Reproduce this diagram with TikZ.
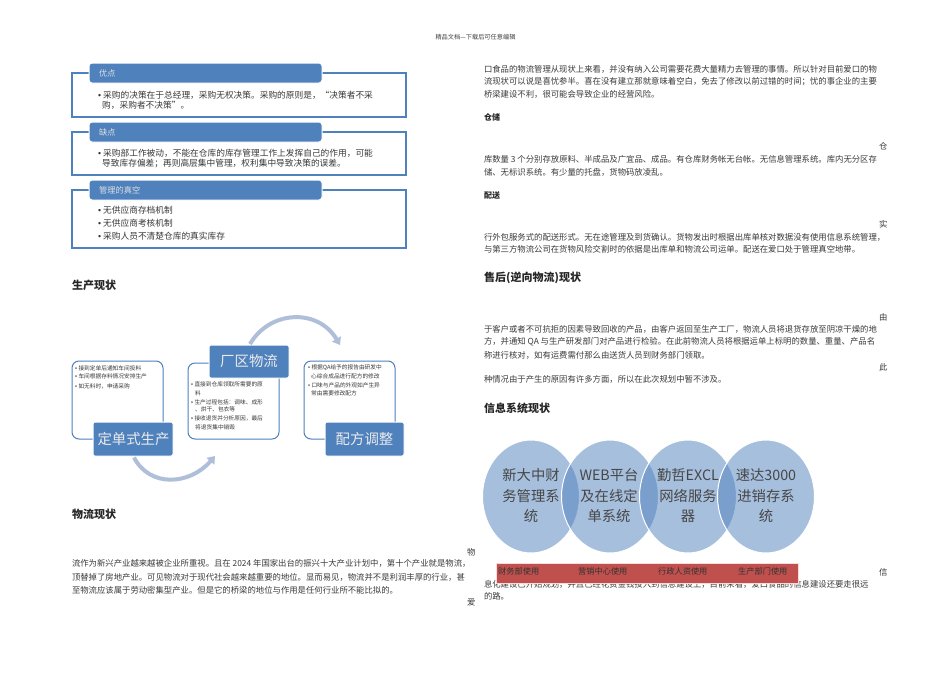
\documentclass[tikz,border=0pt]{standalone}
\usepackage{fontspec}
\setmainfont{Noto Sans CJK SC}
\newfontfamily\bulletfont{Liberation Sans}
\usetikzlibrary{arrows.meta,positioning,shapes.geometric}
\definecolor{bluemain}{HTML}{4F81BD}
\definecolor{arcblue}{HTML}{AFBFD9}
\definecolor{bodyink}{HTML}{3A3A3A}
\definecolor{redbar}{HTML}{C0504D}
\tikzset{
  txt/.style={anchor=west,inner sep=0pt,outer sep=0pt,text=bodyink,font=\fontsize{8.36}{10}\selectfont},
  headline/.style={anchor=west,inner sep=0pt,text=black!85,font=\fontsize{11}{13}\selectfont\bfseries},
  subhead/.style={anchor=west,inner sep=0pt,text=black!85,font=\fontsize{8}{10}\selectfont\bfseries},
  listbox/.style={draw=bluemain,line width=1.1pt,fill=white},
  titlebar/.style={draw=white,line width=1pt,fill=bluemain,rounded corners=3pt},
  titletxt/.style={anchor=west,inner sep=0pt,text=white!88!black,font=\fontsize{8.2}{10}\selectfont},
  listtxt/.style={anchor=west,inner sep=0pt,text=black!78,font=\fontsize{8.7}{10}\selectfont},
  cardbox/.style={draw=bluemain,line width=1pt,fill=white,rounded corners=7pt},
  cardtitle/.style={draw=white,line width=1pt,fill=bluemain,rounded corners=2pt},
  cardhead/.style={inner sep=0pt,text=white!92!black,font=\fontsize{14.4}{16}\selectfont},
  cardtxt/.style={anchor=west,inner sep=0pt,text=black!78,font=\fontsize{5.7}{7}\selectfont},
  bigarc/.style={draw=arcblue,line width=4pt,-{Triangle[length=7pt,width=10pt]}},
  lens/.style={ellipse,draw=white,line width=1pt,fill=bluemain,fill opacity=0.5,text opacity=1,minimum width=97pt,minimum height=113pt,inner sep=0pt},
  lenstxt/.style={inner sep=0pt,text=black!72,font=\fontsize{14.3}{20.5}\selectfont,align=center},
  barlabel/.style={anchor=west,inner sep=0pt,text=black!80,font=\fontsize{8.2}{10}\selectfont},
}
\newcommand\tl[4]{\node[txt] (#1) at (#2,#3) {#4};}
\newcommand\blt{\makebox[0.58em][l]{\bulletfont •}}
\begin{document}
\begin{tikzpicture}[x=1pt,y=-1pt]
\useasboundingbox (0,0) rectangle (950,672);
\fill[white] (0,0) rectangle (950,672);
\node[inner sep=0pt,text=black!75,font=\fontsize{6.2}{7}\selectfont] (hdr) at (475.5,37) {精品文档---下载后可任意编辑};

% ---- top-left list
\draw[listbox] (72,73) rectangle (406,117);
\draw[listbox] (72,132) rectangle (406,175);
\draw[listbox] (72,190) rectangle (406,248);
\draw[titlebar] (89,63) rectangle (322,83);
\draw[titlebar] (89,122) rectangle (322,142);
\draw[titlebar] (89,180) rectangle (322,200);
\node[titletxt] (ta) at (99,73) {优点};
\node[titletxt] (tb) at (99,132) {缺点};
\node[titletxt] (tc) at (99,190) {管理的真空};
\node[listtxt] (la1) at (98,95) {\blt 采购的决策在于总经理，采购无权决策。采购的原则是，“决策者不采};
\node[listtxt] (la2) at (102,105.5) {购，采购者不决策”。};
\node[listtxt] (lb1) at (98,153) {\blt 采购部工作被动，不能在仓库的库存管理工作上发挥自己的作用，可能};
\node[listtxt] (lb2) at (102,163.5) {导致库存偏差；再则高层集中管理，权利集中导致决策的误差。};
\node[listtxt] (lc1) at (98,210) {\blt 无供应商存档机制};
\node[listtxt] (lc2) at (98,223) {\blt 无供应商考核机制};
\node[listtxt] (lc3) at (98,236) {\blt 采购人员不清楚仓库的真实库存};

\node[headline] (h1) at (72,285) {生产现状};

% ---- cycle
\draw[cardbox] (72,361) rectangle (163,439);
\draw[cardbox] (188,363) rectangle (279,439);
\draw[cardbox] (304,361) rectangle (395,439);
\draw[cardtitle] (93,422) rectangle (173,456);
\draw[cardtitle] (209,345) rectangle (289,378);
\draw[cardtitle] (325,422) rectangle (404,456);
\node[cardhead] (ca) at (133.5,439) {定单式生产};
\node[cardhead] (cb) at (249,361.5) {厂区物流};
\node[cardhead] (cc) at (364.5,439) {配方调整};
\coordinate (arcAs) at (134,457.5);
\coordinate (arcAe) at (215,456);
\coordinate (arcBs) at (250,344);
\coordinate (arcBe) at (340,345);
\draw[bigarc] (arcAs) .. controls (150,488) and (190,485) .. (arcAe);
\draw[bigarc] (arcBs) .. controls (270,310) and (318,308) .. (arcBe);

\node[cardtxt] (a1) at (75,368) {\blt 接到定单后通知车间投料};
\node[cardtxt] (a2) at (75,376.5) {\blt 车间根据存料情况安排生产};
\node[cardtxt] (a3) at (75,386) {\blt 如无料时，申请采购};
\node[cardtxt] (b1) at (191,384) {\blt 直接到仓库领取所需要的原};
\node[cardtxt] (b2) at (195,393) {料};
\node[cardtxt] (b3) at (191,402) {\blt 生产过程包括：调味、成形};
\node[cardtxt] (b4) at (195,409.5) {、烘干、包衣等};
\node[cardtxt] (b5) at (191,418) {\blt 接收退货并分析原因，最后};
\node[cardtxt] (b6) at (195,427) {将退货集中销毁};
\node[cardtxt] (c1) at (308,368) {\blt 根据QA给予的报告由研发中};
\node[cardtxt] (c2) at (311,376) {心综合成品进行配方的修改};
\node[cardtxt] (c3) at (308,385) {\blt 口味与产品的外观如产生异};
\node[cardtxt] (c4) at (311,393) {常由需要修改配方};

\node[headline] (h2) at (72,514) {物流现状};
\node[txt] (p0) at (467,552) {物};
\tl{p1}{72}{563.5}{流作为新兴产业越来越被企业所重视。且在 2024 年国家出台的振兴十大产业计划中，第十个产业就是物流，}
\tl{p2}{72}{577}{顶替掉了房地产业。可见物流对于现代社会越来越重要的地位。显而易见，物流并不是利润丰厚的行业，甚}
\tl{p3}{72}{590}{至物流应该属于劳动密集型产业。但是它的桥梁的地位与作用是任何行业所不能比拟的。}
\node[txt] (p4) at (467,602.5) {爱};

% ---- right column
\tl{r1}{484}{69}{口食品的物流管理从现状上来看，并没有纳入公司需要花费大量精力去管理的事情。所以针对目前爱口的物}
\tl{r2}{484}{82}{流现状可以说是喜忧参半。喜在没有建立那就意味着空白，免去了修改以前过错的时间；忧的事企业的主要}
\tl{r3}{484}{94}{桥梁建设不利，很可能会导致企业的经营风险。}
\node[subhead] (s1) at (484,117) {仓储};
\tl{r4}{879}{146}{仓}
\tl{r5}{484}{159}{库数量 3 个分别存放原料、半成品及广宜品、成品。有仓库财务帐无台帐。无信息管理系统。库内无分区存}
\tl{r6}{484}{172}{储、无标识系统。有少量的托盘，货物码放凌乱。}
\node[subhead] (s2) at (484,195) {配送};
\tl{r7}{879}{224}{实}
\tl{r8}{484}{237}{行外包服务式的配送形式。无在途管理及到货确认。货物发出时根据出库单核对数据没有使用信息系统管理，}
\tl{r9}{484}{249}{与第三方物流公司在货物风险交割时的依据是出库单和物流公司运单。配送在爱口处于管理真空地带。}
\node[headline] (h3) at (484,278) {售后(逆向物流)现状};
\tl{r10}{879}{317}{由}
\tl{r11}{484}{329}{于客户或者不可抗拒的因素导致回收的产品，由客户返回至生产工厂，物流人员将退货存放至阴凉干燥的地}
\tl{r12}{484}{342}{方，并通知 QA 与生产研发部门对产品进行检验。在此前物流人员将根据运单上标明的数量、重量、产品名}
\tl{r13}{484}{355}{称进行核对，如有运费需付那么由送货人员到财务部门领取。}
\tl{r14}{879}{367}{此}
\tl{r15}{484}{379}{种情况由于产生的原因有许多方面，所以在此次规划中暂不涉及。}
\node[headline] (h4) at (484,408) {信息系统现状};
\tl{r16}{879}{572}{信}
\tl{r17}{484}{584}{息化建设已开始规划，并且已经花费金钱投入到信息建设上，目前来看，爱口食品的信息建设还要走很远}
\tl{r18}{484}{596}{的路。}

% ---- overlapping circles
\node[lens] (e1) at (531,496.5) {};
\node[lens] (e2) at (610,496.5) {};
\node[lens] (e3) at (688,496.5) {};
\node[lens] (e4) at (766,496.5) {};
\node[lenstxt] (et1) at (531,496) {新大中财\\务管理系\\统};
\node[lenstxt] (et2) at (609,496) {WEB平台\\及在线定\\单系统};
\node[lenstxt] (et3) at (688,496) {勤哲EXCL\\网络服务\\器};
\node[lenstxt] (et4) at (766,496) {速达3000\\进销存系\\统};

\draw[draw=white!85!red,line width=1pt,fill=redbar] (496,563) rectangle (798,583);
\node[barlabel] (u1) at (498,571) {财务部使用};
\node[barlabel] (u2) at (578,571) {营销中心使用};
\node[barlabel] (u3) at (658,571) {行政人资使用};
\node[barlabel] (u4) at (738,571) {生产部门使用};
\end{tikzpicture}
\end{document}
